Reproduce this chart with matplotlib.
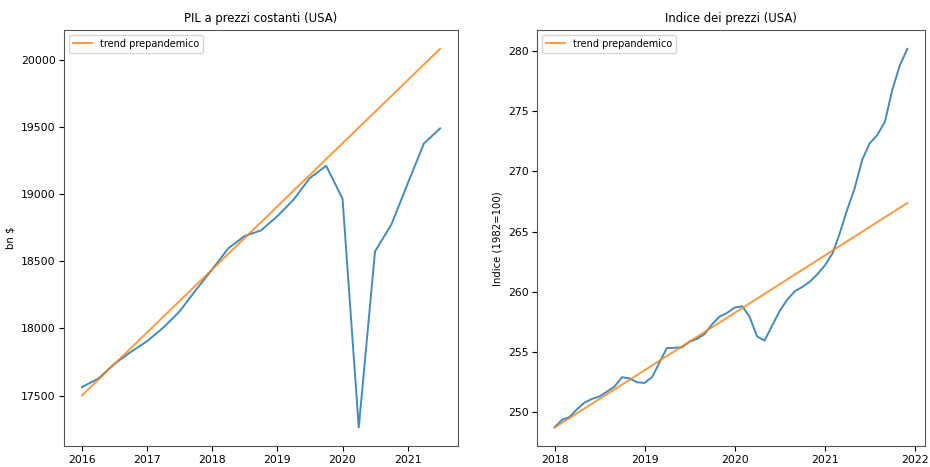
import matplotlib
matplotlib.use("Agg")
import matplotlib.pyplot as plt
import matplotlib.dates as mdates
import pandas as pd

# PIL reale USA, trimestrale (mld $)
trimestri = pd.date_range("2016-01-01", periods=23, freq="QS")
pil = [17563, 17625, 17735, 17824, 17905, 18005, 18125, 18285,
       18440, 18596, 18687, 18729, 18835, 18957, 19117, 19210,
       18965, 17262, 18572, 18773, 19080, 19375, 19488]
trend_pil_date = pd.to_datetime(["2016-01-01", "2021-07-01"])
trend_pil = [17500, 20080]

# indice dei prezzi, mensile
mesi = pd.date_range("2018-01-01", periods=48, freq="MS")
cpi = [248.77, 249.40, 249.60, 250.25, 250.80, 251.12, 251.32, 251.72, 252.15, 252.92, 252.82, 252.50,
       252.45, 252.95, 254.10, 255.33, 255.36, 255.40, 255.85, 256.10, 256.50, 257.30, 257.95, 258.25,
       258.70, 258.80, 257.95, 256.30, 255.96, 257.20, 258.40, 259.35, 260.05, 260.40, 260.85, 261.45,
       262.20, 263.20, 264.80, 266.80, 268.55, 270.95, 272.30, 273.00, 274.10, 276.75, 278.80, 280.15]
trend_cpi_date = pd.to_datetime(["2018-01-01", "2021-12-01"])
trend_cpi = [248.75, 267.37]

fig = plt.figure(figsize=(9.3, 4.67), dpi=100)
ax1 = fig.add_axes([0.0688, 0.044, 0.4237, 0.892])
ax2 = fig.add_axes([0.5774, 0.044, 0.4172, 0.892])

ax1.plot(trimestri, pil, color="C0", lw=1.4, alpha=0.85)
ax1.plot(trend_pil_date, trend_pil, color="C1", lw=1.4, alpha=0.8, label="trend prepandemico")
ax1.set_title("PIL a prezzi costanti (USA)", fontsize=8.4)
ax1.set_ylabel("bn $", fontsize=7.3)

ax2.plot(mesi, cpi, color="C0", lw=1.4, alpha=0.85)
ax2.plot(trend_cpi_date, trend_cpi, color="C1", lw=1.4, alpha=0.8, label="trend prepandemico")
ax2.set_title("Indice dei prezzi (USA)", fontsize=8.4)
ax2.set_ylabel("Indice (1982=100)", fontsize=7.3)

for ax in (ax1, ax2):
    ax.legend(loc="upper left", fontsize=7)
    ax.xaxis.set_major_locator(mdates.YearLocator())
    ax.xaxis.set_major_formatter(mdates.DateFormatter("%Y"))
    ax.tick_params(labelsize=7.8, pad=2.5)
    for s in ax.spines.values():
        s.set_color("#555555")

fig.savefig("out.png", dpi=100)
